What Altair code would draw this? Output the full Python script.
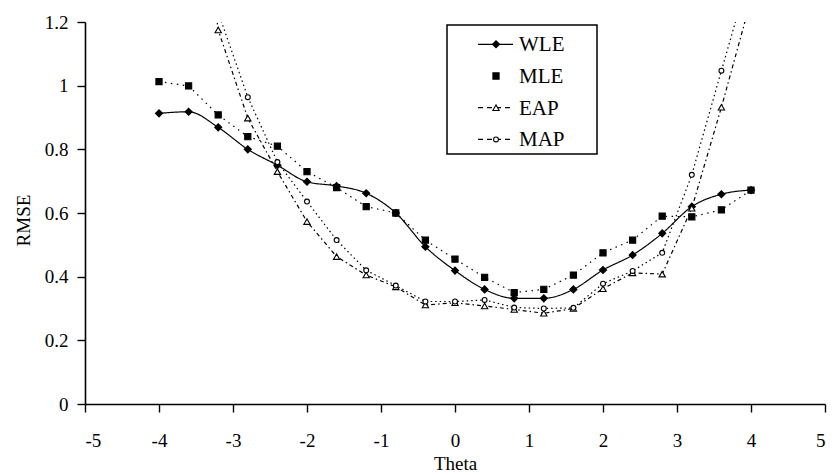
import altair as alt
import pandas as pd

# RMSE of four ability estimators across the theta scale
theta = [-4.0, -3.6, -3.2, -2.8, -2.4, -2.0, -1.6, -1.2, -0.8, -0.4,
         0.0, 0.4, 0.8, 1.2, 1.6, 2.0, 2.4, 2.8, 3.2, 3.6, 4.0]

wle = [0.913, 0.918, 0.869, 0.800, 0.750, 0.698, 0.685, 0.662, 0.600, 0.494,
       0.419, 0.360, 0.332, 0.332, 0.360, 0.421, 0.468, 0.536, 0.620, 0.659, 0.672]
mle = [1.013, 0.999, 0.908, 0.840, 0.810, 0.730, 0.680, 0.620, 0.600, 0.515,
       0.455, 0.398, 0.350, 0.360, 0.405, 0.475, 0.515, 0.590, 0.588, 0.610, 0.672]

# EAP and MAP leave the plotted range at the extremes
eap_theta = theta[1:]
eap = [1.90, 1.175, 0.898, 0.730, 0.573, 0.463, 0.405, 0.368, 0.311,
       0.318, 0.308, 0.297, 0.285, 0.300, 0.362, 0.412, 0.408, 0.615, 0.932, 1.27]
map_theta = theta[2:]
map_ = [1.23, 0.964, 0.760, 0.636, 0.515, 0.420, 0.372, 0.322,
        0.322, 0.327, 0.303, 0.300, 0.302, 0.378, 0.418, 0.475, 0.720, 1.047, 1.37]

series_names = ["WLE", "MLE", "EAP", "MAP"]

frames = {
    "WLE": pd.DataFrame({"theta": theta, "rmse": wle}),
    "MLE": pd.DataFrame({"theta": theta, "rmse": mle}),
    "EAP": pd.DataFrame({"theta": eap_theta, "rmse": eap}),
    "MAP": pd.DataFrame({"theta": map_theta, "rmse": map_}),
}

FONT = "Liberation Serif"

x_enc = alt.X(
    "theta:Q",
    scale=alt.Scale(domain=[-5, 5], nice=False, zero=False),
    axis=alt.Axis(
        title="Theta", values=list(range(-5, 6)),
        labelExpr="'' + datum.value",
        titleX=370, titleY=59, titleBaseline="middle",
        labelPadding=19, tickSize=8,
    ),
)
y_enc = alt.Y(
    "rmse:Q",
    scale=alt.Scale(domain=[0, 1.2], nice=False),
    axis=alt.Axis(
        title="RMSE", values=[0, 0.2, 0.4, 0.6, 0.8, 1.0, 1.2],
        labelExpr="format(datum.value, '~g')",
        titleX=-62, titleY=198, titleAlign="center", titleBaseline="middle",
        labelPadding=9, tickSize=8,
    ),
)

# line style and marker for each estimator
styles = {
    "WLE": dict(dash=[1, 0], shape="diamond", filled=True, size=50, interp="monotone"),
    "MLE": dict(dash=[1.5, 4.5], shape="square", filled=True, size=38, interp="linear"),
    "EAP": dict(dash=[4, 3, 1.5, 3], shape="triangle-up", filled=False, size=40, interp="linear"),
    "MAP": dict(dash=[1.5, 3], shape="circle", filled=False, size=24, interp="linear"),
}

layers = []
for name in series_names:
    st = styles[name]
    base = alt.Chart(frames[name]).encode(x=x_enc, y=y_enc)
    layers.append(
        base.mark_line(color="black", strokeWidth=1.2, strokeDash=st["dash"],
                       interpolate=st["interp"], clip=True)
    )
for name in series_names:
    st = styles[name]
    base = alt.Chart(frames[name]).encode(x=x_enc, y=y_enc)
    layers.append(
        base.mark_point(shape=st["shape"], size=st["size"], filled=True,
                        fill="black" if st["filled"] else "white",
                        stroke="black", strokeWidth=1.1, opacity=1, clip=True)
    )

# legend box with a line sample, marker and name per estimator
legend_df = pd.DataFrame({"name": series_names})
layers.append(
    alt.Chart(legend_df.head(1)).mark_rect(fill="white", stroke="black", strokeWidth=1.5)
    .encode(x=alt.value(362), x2=alt.value(512), y=alt.value(3), y2=alt.value(132))
)
for i, name in enumerate(series_names):
    st = styles[name]
    yy = 22.3 + 31.7 * i
    row = alt.Chart(legend_df.iloc[[i]])
    if name != "MLE":
        layers.append(
            row.mark_rule(color="black", strokeWidth=1.2,
                          strokeDash=[1, 0] if name == "WLE" else [5, 4])
            .encode(x=alt.value(393), x2=alt.value(428), y=alt.value(yy))
        )
    layers.append(
        row.mark_point(shape=st["shape"], size=st["size"], filled=True,
                       fill="black" if st["filled"] else "white",
                       stroke="black", strokeWidth=1.1, opacity=1)
        .encode(x=alt.value(411), y=alt.value(yy))
    )
    layers.append(
        row.mark_text(align="left", baseline="middle", font=FONT, fontSize=21, color="black")
        .encode(x=alt.value(434), y=alt.value(yy + 1), text="name:N")
    )

chart = (
    alt.layer(*layers)
    .properties(width=740, height=382,
                autosize=alt.AutoSizeParams(type="none"),
                padding={"left": 85, "top": 22, "right": 11, "bottom": 71},
                background="white")
    .configure_view(stroke=None)
    .configure_axis(
        grid=False, domainColor="black", domainWidth=1.6,
        tickColor="black", tickWidth=1.4,
        labelFont=FONT, labelFontSize=19, labelColor="black",
        titleFont=FONT, titleFontSize=19, titleFontWeight="normal", titleColor="black",
    )
)

chart.save("out.html", embed_options={"renderer": "svg", "actions": False})
